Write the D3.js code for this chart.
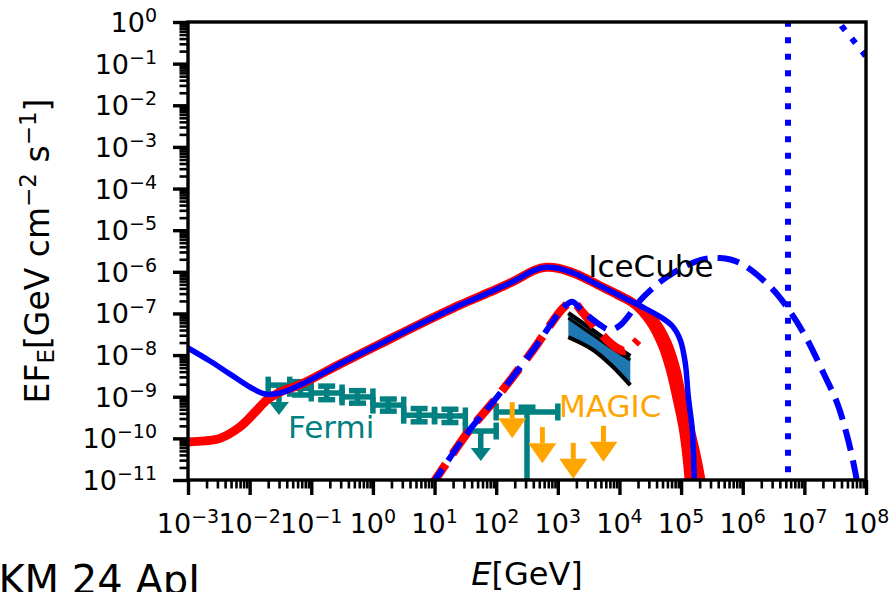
<!DOCTYPE html>
<html>
<head>
<meta charset="utf-8">
<script src="https://cdn.jsdelivr.net/npm/d3@7"></script>
<style>
  html, body { margin: 0; padding: 0; background: #fff; }
  svg { display: block; }
  text { font-family: "DejaVu Sans", sans-serif; white-space: pre; }
</style>
</head>
<body>
<svg id="chart" width="893" height="592"></svg>
<script>
// ---- Spectral data: [E (GeV), E F_E (GeV cm^-2 s^-1)] ----
const blueSolid = [
  [1.0e-3, 1.48e-8], [2.27e-3, 7.2e-9], [4.8e-3, 3.5e-9], [1.01e-2, 1.71e-9], [1.78e-2, 1.16e-9],
  [3.12e-2, 1.23e-9], [6.58e-2, 1.91e-9], [0.294, 6.12e-9], [1.31, 1.85e-8], [5.84, 5.58e-8],
  [26.0, 1.6e-7], [80.0, 3.28e-7], [203, 6.2e-7], [420, 1.1e-6], [650, 1.28e-6], [1.0e3, 1.22e-6],
  [1.92e3, 9.0e-7], [4.88e3, 4.57e-7], [1.03e4, 2.63e-7], [2.19e4, 1.51e-7], [4.6e4, 8.3e-8],
  [7.2e4, 5.0e-8], [9.7e4, 2.3e-8], [1.17e5, 6.4e-9], [1.31e5, 9.9e-10], [1.52e5, 1.6e-10],
  [1.64e5, 1e-11], [1.7e5, 3.3e-12]
];
const redSolid = [
  [1.0e-3, 8.2e-11], [1.89e-3, 8.7e-11], [3.3e-3, 1.0e-10], [7.0e-3, 1.9e-10], [1.23e-2, 4.3e-10],
  [1.9e-2, 8.3e-10], [3.12e-2, 1.3e-9], [6.58e-2, 1.95e-9], [0.294, 6.12e-9], [1.31, 1.85e-8],
  [5.84, 5.58e-8], [26.0, 1.6e-7], [80.0, 3.28e-7], [203, 6.2e-7], [420, 1.1e-6], [650, 1.28e-6],
  [1.0e3, 1.22e-6], [1.92e3, 9.0e-7], [4.88e3, 4.57e-7], [1.03e4, 2.63e-7], [1.66e4, 1.78e-7],
  [3.16e4, 6.3e-8], [4.95e4, 1.75e-8], [6.7e4, 4.4e-9], [8.7e4, 8.3e-10], [1.09e5, 1.6e-10],
  [1.26e5, 3.0e-11], [1.41e5, 4.4e-12]
];
const redSolidUpper = [
  [1.03e4, 2.63e-7], [1.66e4, 1.78e-7], [3.8e4, 6.3e-8], [5.97e4, 1.95e-8], [8.3e4, 4.4e-9],
  [1.05e5, 8.3e-10], [1.41e5, 1.6e-10], [1.83e5, 3.0e-11], [2.1e5, 1e-11], [2.3e5, 4.4e-12]
];
const blueDashed = [
  [8.5, 6.8e-12], [10.2, 1e-11], [34, 1.35e-10], [104, 9.9e-10], [398, 1.33e-8], [1.22e3, 1.35e-7],
  [1.71e3, 1.9e-7], [2.57e3, 1.1e-7], [4.9e3, 5.25e-8], [7.1e3, 4.0e-8], [1.03e4, 5.25e-8],
  [2.45e4, 2.5e-7], [5.97e4, 7.6e-7], [2.04e5, 1.92e-6], [4.3e5, 2.14e-6], [9.1e5, 1.62e-6],
  [2.8e6, 4.35e-7], [5.9e6, 1.1e-7], [1.12e7, 2.3e-8], [2.04e7, 3.7e-9], [3.4e7, 7.1e-10],
  [5.0e7, 1.07e-10], [6.7e7, 1.55e-11], [7.5e7, 5.8e-12]
];
const redDashed = [
  [8.5, 6.8e-12], [10.2, 1e-11], [34, 1.35e-10], [104, 9.9e-10], [398, 1.33e-8], [1.22e3, 1.35e-7],
  [1.71e3, 1.9e-7], [2.57e3, 1.03e-7], [3.76e3, 5.25e-8], [6.3e3, 2.3e-8], [9.1e3, 1.48e-8],
  [1.2e4, 1.26e-8], [1.62e4, 1.66e-8], [2.0e4, 2.3e-8]
];
const blueDotted = [
  [5.43e6, 1e-12], [5.43e6, 3], [1.5e7, 6], [2.5e7, 2.3], [4.14e7, 0.76], [9.1e7, 0.18], [1.2e8, 0.1]
];

// IceCube power-law band
const icE     = [1.48e3, 3.76e3, 7.9e3, 1.5e4];
const icUpper = [1.03e-7, 3.9e-8, 1.8e-8, 9.5e-9];
const icBest  = [7.8e-8, 3.0e-8, 1.4e-8, 7.6e-9];
const icLower = [2.7e-8, 1.33e-8, 5.2e-9, 1.9e-9];

// Fermi bins
const fermiLo   = [0.02, 0.0447, 0.1, 0.316, 1, 3.16, 10, 31.6, 100];
const fermiHi   = [0.0447, 0.1, 0.316, 1, 3.16, 10, 31.6, 100, 1000];
const fermiF    = [1.9e-9, 1.6e-9, 1.23e-9, 9.9e-10, 6.3e-10, 3.6e-10, 3.45e-10, 1.5e-10, 4.3e-10];
const fermiFmin = [null, 1.1e-9, 8.5e-10, 7.0e-10, 4.5e-10, 2.5e-10, 2.4e-10, null, 1e-13];
const fermiFmax = [null, 2.3e-9, 1.8e-9, 1.4e-9, 8.8e-10, 5.2e-10, 5.0e-10, null, 5.6e-10];
const fermiUL   = [true, false, false, false, false, false, false, true, false];

// MAGIC upper limits
const magicE = [182, 562, 1.78e3, 5.5e3];
const magicF = [7.4e-10, 1.86e-10, 7.8e-11, 2.0e-10];

// Tick labels (powers of ten)
const xTickExp = [-3, -2, -1, 0, 1, 2, 3, 4, 5, 6, 7, 8];
const yTickExp = [0, -1, -2, -3, -4, -5, -6, -7, -8, -9, -10, -11];

// Annotations
const notes = [
  { text: "IceCube", E: 3.12e3, F: 7.5e-7, color: "#000000" },
  { text: "MAGIC",   E: 1.05e3, F: 3.27e-10, color: "#ffa500" },
  { text: "Fermi",   E: 0.042,  F: 1.02e-10, color: "#008080" }
];

// ---- Layout ----
const PL = 188, PR = 866, PT = 22, PB = 480;
const svg = d3.select("#chart");
const x = d3.scaleLog().domain([1e-3, 1e8]).range([PL, PR]);
const y = d3.scaleLog().domain([1e-11, 1]).range([PB, PT]);

const BLUE = "#0000ff", RED = "#ff0000", TEAL = "#008080", ORANGE = "#ffa500";

svg.append("defs").append("clipPath").attr("id", "plotClip")
  .append("rect").attr("x", PL).attr("y", PT).attr("width", PR - PL).attr("height", PB - PT);

const plot = svg.append("g").attr("clip-path", "url(#plotClip)");

const smooth = d3.line().x(d => x(d[0])).y(d => y(d[1])).curve(d3.curveCatmullRom.alpha(0.5));
const straight = d3.line().x(d => x(d[0])).y(d => y(d[1]));

// Fermi error bars
const fermi = plot.append("g").attr("stroke", TEAL).attr("fill", TEAL).attr("stroke-width", 5.5);
const cap = 8.5;
fermiF.forEach((F, i) => {
  const x0 = x(fermiLo[i]), x1 = x(fermiHi[i]);
  const xc = x(Math.sqrt(fermiLo[i] * fermiHi[i]));
  const yc = y(F);
  fermi.append("line").attr("x1", x0).attr("x2", x1).attr("y1", yc).attr("y2", yc);
  [x0, x1].forEach(xx => fermi.append("line").attr("x1", xx).attr("x2", xx).attr("y1", yc - cap).attr("y2", yc + cap));
  if (fermiUL[i]) {
    const L = 30, hh = 13, hw = 10;
    fermi.append("line").attr("x1", xc).attr("x2", xc).attr("y1", yc).attr("y2", yc + L - hh);
    fermi.append("path").attr("stroke", "none")
      .attr("d", `M${xc - hw},${yc + L - hh}L${xc + hw},${yc + L - hh}L${xc},${yc + L}Z`);
  } else {
    const ya = y(fermiFmax[i]), yb = y(fermiFmin[i]);
    fermi.append("line").attr("x1", xc).attr("x2", xc).attr("y1", ya).attr("y2", yb);
    [ya, yb].forEach(yy => fermi.append("line").attr("x1", xc - cap).attr("x2", xc + cap).attr("y1", yy).attr("y2", yy));
  }
});

// MAGIC upper-limit arrows
const magic = plot.append("g").attr("fill", ORANGE).attr("stroke", ORANGE).attr("stroke-width", 5);
magicE.forEach((E, i) => {
  const xc = x(E), yc = y(magicF[i]);
  const L = 36, hh = 20, hw = 14;
  magic.append("line").attr("x1", xc).attr("x2", xc).attr("y1", yc).attr("y2", yc + L - hh);
  magic.append("path").attr("stroke", "none")
    .attr("d", `M${xc - hw},${yc + L - hh}L${xc + hw},${yc + L - hh}L${xc},${yc + L}Z`);
});

// IceCube band
const icRows = icE.map((E, i) => ({ E, up: icUpper[i], best: icBest[i], lo: icLower[i] }));
plot.append("path")
  .attr("d", d3.area().x(d => x(d.E)).y0(d => y(d.lo)).y1(d => y(d.up)).curve(d3.curveCatmullRom.alpha(0.5))(icRows))
  .attr("fill", "#1f77b4");
[[icUpper, 4.2], [icBest, 3], [icLower, 4.2]].forEach(([arr, w]) => {
  plot.append("path").attr("d", smooth(icE.map((E, i) => [E, arr[i]])))
    .attr("fill", "none").attr("stroke", "#000").attr("stroke-width", w).attr("stroke-linecap", "butt");
});

// Model curves
function curve(data, color, width, dash, gen) {
  plot.append("path").attr("d", (gen || smooth)(data))
    .attr("fill", "none").attr("stroke", color).attr("stroke-width", width)
    .attr("stroke-linejoin", "round")
    .attr("stroke-linecap", dash ? "butt" : "square")
    .attr("stroke-dasharray", dash || null);
}
curve(redSolid, RED, 9);
curve(redSolidUpper, RED, 9);
curve(blueSolid, BLUE, 5.5);
curve(redDashed, RED, 8.5, "28,12");
curve(blueDashed, BLUE, 6, "22,10");
curve(blueDotted, BLUE, 6, "6,10.5", straight);

// Annotations
notes.forEach(n => {
  svg.append("text").attr("x", x(n.E)).attr("y", y(n.F))
    .attr("font-size", 31).attr("fill", n.color).text(n.text);
});

// Frame
svg.append("rect").attr("x", PL).attr("y", PT).attr("width", PR - PL).attr("height", PB - PT)
  .attr("fill", "none").attr("stroke", "#000").attr("stroke-width", 3.4);

// Ticks
const xMajor = xTickExp.map(e => Math.pow(10, e));
const yMajor = yTickExp.map(e => Math.pow(10, e));
const xMinor = [], yMinor = [];
for (let e = -3; e < 8; e++) for (let m = 2; m <= 9; m++) xMinor.push(m * Math.pow(10, e));
for (let e = -11; e < 0; e++) for (let m = 2; m <= 9; m++) yMinor.push(m * Math.pow(10, e));

function styleAxis(g, w) {
  g.select(".domain").remove();
  g.selectAll(".tick line").attr("stroke", "#000").attr("stroke-width", w);
  g.selectAll(".tick text").remove();
}
svg.append("g").attr("transform", `translate(0,${PB})`)
  .call(d3.axisBottom(x).tickValues(xMinor).tickSize(8.5).tickFormat(""))
  .call(g => styleAxis(g, 2.6));
svg.append("g").attr("transform", `translate(0,${PB})`)
  .call(d3.axisBottom(x).tickValues(xMajor).tickSize(15).tickFormat(""))
  .call(g => styleAxis(g, 3.4));
svg.append("g").attr("transform", `translate(${PL},0)`)
  .call(d3.axisLeft(y).tickValues(yMinor).tickSize(8.5).tickFormat(""))
  .call(g => styleAxis(g, 2.6));
svg.append("g").attr("transform", `translate(${PL},0)`)
  .call(d3.axisLeft(y).tickValues(yMajor).tickSize(15).tickFormat(""))
  .call(g => styleAxis(g, 3.4));

// Tick labels as 10^n
const expText = e => (e < 0 ? "\u2212" + Math.abs(e) : String(e));
function powLabel(t, e) {
  t.append("tspan").text("10");
  t.append("tspan").attr("dy", -10).attr("font-size", 19).text(expText(e));
}
xTickExp.forEach(e => {
  const t = svg.append("text").attr("x", x(Math.pow(10, e))).attr("y", 533)
    .attr("text-anchor", "middle").attr("font-size", 27).attr("fill", "#000");
  powLabel(t, e);
});
yTickExp.forEach(e => {
  const t = svg.append("text").attr("x", 157).attr("y", y(Math.pow(10, e)) + 10)
    .attr("text-anchor", "end").attr("font-size", 27).attr("fill", "#000");
  powLabel(t, e);
});

// Axis titles
const xt = svg.append("text").attr("x", (PL + PR) / 2).attr("y", 585)
  .attr("text-anchor", "middle").attr("font-size", 32).attr("fill", "#000");
xt.append("tspan").attr("font-style", "italic").text("E");
xt.append("tspan").text("[GeV]");

const yt = svg.append("text").attr("transform", `translate(49,${(PT + PB) / 2}) rotate(-90)`)
  .attr("text-anchor", "middle").attr("font-size", 33).attr("fill", "#000");
yt.append("tspan").text("EF");
yt.append("tspan").attr("font-size", 23).attr("dy", 5).text("E");
yt.append("tspan").attr("dy", -5).text("[GeV cm");
yt.append("tspan").attr("font-size", 23).attr("dy", -13).text("\u22122");
yt.append("tspan").attr("dy", 13).text(" s");
yt.append("tspan").attr("font-size", 23).attr("dy", -13).text("\u22121");
yt.append("tspan").attr("dy", 13).text("]");

// Reference tag
svg.append("text").attr("x", 200).attr("y", 594).attr("text-anchor", "end")
  .attr("font-family", "'Liberation Sans', Arial, sans-serif").attr("font-size", 40)
  .attr("fill", "#000").text("KM 24 ApJ");
</script>
</body>
</html>
